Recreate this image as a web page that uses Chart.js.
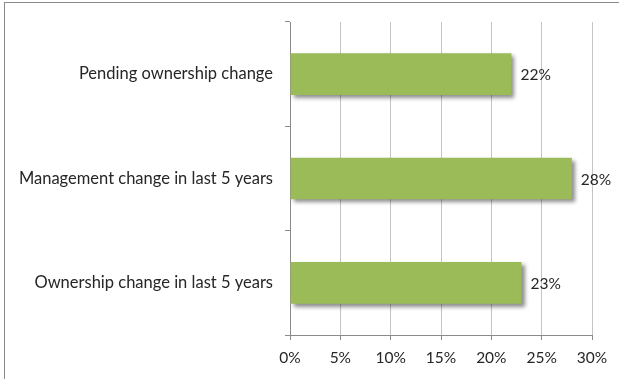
<!DOCTYPE html>
<html>
<head>
<meta charset="utf-8">
<script src="https://cdn.jsdelivr.net/npm/chart.js@4/dist/chart.umd.min.js"></script>
<style>
  html, body { margin: 0; padding: 0; background: #fff; overflow: hidden; }
  #wrap { position: relative; width: 619px; height: 379px; }
  #frame { position: absolute; left: 4px; top: 2px; width: 700px; height: 500px; border: 1px solid #8a8a8a; box-sizing: border-box; pointer-events: none; }
  canvas { position: absolute; left: 0; top: 0; }
</style>
</head>
<body>
<div id="wrap">
  <canvas id="chart" width="619" height="379"></canvas>
  <div id="frame"></div>
</div>
<script>
// categories, top to bottom
const categories = [
    'Pending ownership change',
    'Management change in last 5 years',
    'Ownership change in last 5 years'
];
const shares = [22, 28, 23];
const xTicks = [0, 5, 10, 15, 20, 25, 30];

const FONT = "Lato, 'Open Sans', sans-serif";
const TEXT = '#262626';

// soft drop shadow under the bars only
const barShadow = {
    id: 'barShadow',
    beforeDatasetDraw(chart) {
        const ctx = chart.ctx;
        ctx.save();
        ctx.shadowColor = 'rgba(0, 0, 0, 0.45)';
        ctx.shadowBlur = 4;
        ctx.shadowOffsetX = 3;
        ctx.shadowOffsetY = 3;
    },
    afterDatasetDraw(chart) {
        chart.ctx.restore();
    }
};

// value labels right of each bar
const valueLabels = {
    id: 'valueLabels',
    afterDatasetsDraw(chart) {
        const ctx = chart.ctx;
        const meta = chart.getDatasetMeta(0);
        ctx.save();
        ctx.font = '15.5px ' + FONT;
        ctx.fillStyle = TEXT;
        ctx.textAlign = 'left';
        ctx.textBaseline = 'middle';
        meta.data.forEach((bar, i) => {
            ctx.fillText(shares[i] + '%', bar.x + 9, bar.y + 1);
        });
        ctx.restore();
    }
};

new Chart(document.getElementById('chart'), {
    type: 'bar',
    data: {
        labels: categories,
        datasets: [{
            data: shares,
            backgroundColor: '#9bbb59',
            borderWidth: 0,
            barPercentage: 0.5,
            categoryPercentage: 0.8
        }]
    },
    options: {
        indexAxis: 'y',
        responsive: false,
        animation: false,
        events: [],
        layout: { padding: { top: 22, right: 27, left: 0, bottom: 0 } },
        plugins: {
            legend: { display: false },
            tooltip: { enabled: false }
        },
        scales: {
            x: {
                min: 0,
                max: 30,
                afterBuildTicks(scale) {
                    scale.ticks = xTicks.map(v => ({ value: v }));
                },
                afterFit(scale) { scale.height = 44; },
                grid: {
                    color: '#c4c4c4',
                    tickColor: '#8a8a8a',
                    tickLength: 5
                },
                border: { color: '#8a8a8a' },
                ticks: {
                    padding: 9,
                    color: TEXT,
                    font: { family: FONT, size: 15.5 },
                    callback: v => v + '%'
                }
            },
            y: {
                afterFit(scale) { scale.width = 290; },
                grid: {
                    drawOnChartArea: false,
                    tickColor: '#8a8a8a',
                    tickLength: 5
                },
                border: { color: '#8a8a8a' },
                ticks: {
                    padding: 12,
                    color: TEXT,
                    font: { family: FONT, size: 16.5 }
                }
            }
        }
    },
    plugins: [barShadow, valueLabels]
});
</script>
</body>
</html>
